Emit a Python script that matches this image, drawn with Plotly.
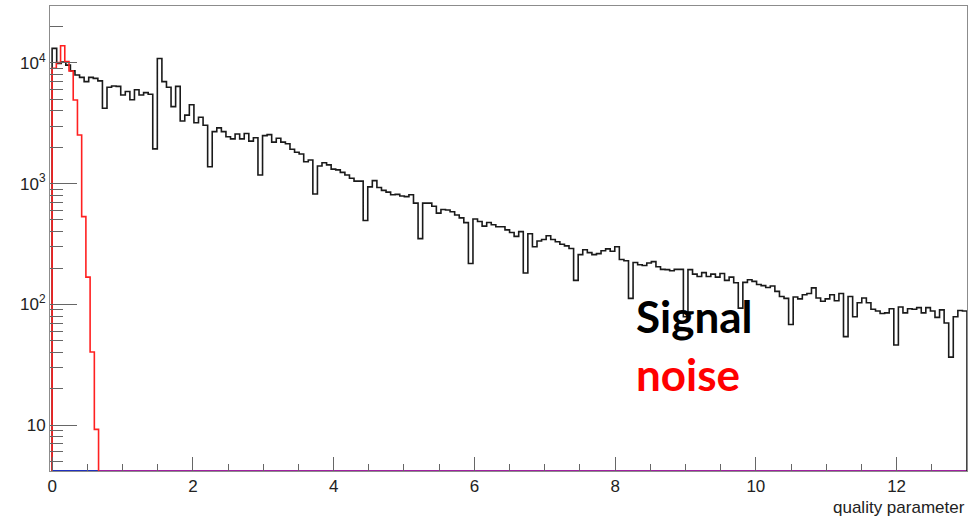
import numpy as np
import plotly.graph_objects as go

# Signal histogram: 200 bins on [0, 13]
signal_counts = [
    13200, 9900, 10200, 9600, 8600, 7950, 7600, 7000, 7600, 7450,
    7100, 4220, 6300, 6450, 6400, 5430, 5800, 4950, 6000, 5430,
    5680, 5500, 1940, 10900, 7000, 6300, 4350, 6400, 3300, 3700,
    4500, 3200, 3550, 3050, 1380, 2700, 2900, 2700, 2450, 2350,
    2580, 2350, 2600, 2250, 2400, 1180, 2500, 2550, 2210, 2380,
    2210, 2140, 1930, 1820, 1760, 1520, 1570, 820, 1400, 1490,
    1430, 1320, 1300, 1240, 1180, 1110, 1050, 1050, 495, 940,
    1060, 930, 880, 850, 810, 815, 790, 780, 810, 690,
    350, 690, 690, 650, 570, 610, 605, 585, 550, 520,
    475, 218, 510, 485, 445, 476, 456, 440, 440, 414,
    394, 366, 400, 182, 385, 300, 335, 345, 370, 345,
    330, 315, 305, 290, 158, 258, 283, 268, 258, 263,
    278, 288, 275, 300, 235, 230, 112, 222, 213, 210,
    220, 226, 205, 195, 194, 190, 195, 195, 79, 194,
    178, 170, 183, 170, 178, 168, 180, 158, 168, 151,
    93, 152, 160, 155, 146, 143, 138, 142, 128, 116,
    112, 68, 115, 111, 120, 123, 137, 113, 106, 111,
    120, 107, 123, 54, 116, 79, 103, 113, 103, 91,
    88, 84, 85, 92, 46, 95, 85, 92, 91, 94,
    85, 94, 88, 78, 90, 70, 36.5, 79, 89, 88,
]
signal_range = (0.0, 13.0)

# Noise histogram: 11 bins on [0, 0.66]
noise_counts = [9040, 10060, 13900, 10250, 8580, 4940, 2530, 533, 168, 40.3, 9.2]
noise_range = (0.0, 0.66)

x_tick_vals = [0, 2, 4, 6, 8, 10, 12]
y_tick_vals = [10, 100, 1000, 10000]
y_tick_text = ["10", "10<sup>2</sup>", "10<sup>3</sup>", "10<sup>4</sup>"]

x_min, x_max = -0.03, 13.0
log_y_min, log_y_max = 0.619, 4.472
y_floor = 10 ** log_y_min


def step_outline(counts, lo, hi):
    """Histogram outline (ROOT style) drawn from the frame bottom."""
    edges = np.linspace(lo, hi, len(counts) + 1)
    xs = [edges[0]] + list(edges[:-1]) + [edges[-1], edges[-1]]
    ys = [y_floor] + list(counts) + [counts[-1], y_floor]
    return xs, ys


fig = go.Figure()

# empty histograms lying on the frame bottom
fig.add_trace(go.Scatter(x=[signal_range[0], signal_range[1]], y=[y_floor, y_floor],
                         mode="lines", line=dict(color="#a020a0", width=2),
                         hoverinfo="skip", showlegend=False))
fig.add_trace(go.Scatter(x=[noise_range[0], noise_range[1]], y=[y_floor, y_floor],
                         mode="lines", line=dict(color="#2030c0", width=2),
                         hoverinfo="skip", showlegend=False))

sx, sy = step_outline(signal_counts, *signal_range)
fig.add_trace(go.Scatter(x=sx, y=sy, mode="lines", line_shape="hv",
                         line=dict(color="#1a1a1a", width=1.6),
                         name="Signal", showlegend=False))

nx, ny = step_outline(noise_counts, *noise_range)
fig.add_trace(go.Scatter(x=nx, y=ny, mode="lines", line_shape="hv",
                         line=dict(color="#ff2020", width=1.6),
                         name="noise", showlegend=False))

y_minor = [m * 10 ** k for k in range(0, 5) for m in range(2, 10)
           if log_y_min <= np.log10(m * 10 ** k) <= log_y_max]

tick_font = dict(family="Liberation Sans, Arial, sans-serif", size=17, color="#222222")

fig.update_layout(
    width=969, height=516,
    margin=dict(l=50, r=2, t=6, b=45),
    paper_bgcolor="white", plot_bgcolor="white",
    xaxis=dict(
        range=[x_min, x_max], showgrid=False, zeroline=False,
        showline=True, linecolor="#8c8c8c", linewidth=1, mirror=True,
        ticks="inside", ticklen=14, tickwidth=1, tickcolor="#666666",
        tickvals=x_tick_vals, tickfont=tick_font,
        minor=dict(ticks="inside", ticklen=7, tickwidth=1, tickcolor="#666666", dtick=0.5, tick0=0),
    ),
    yaxis=dict(
        type="log", range=[log_y_min, log_y_max], showgrid=False, zeroline=False,
        showline=True, linecolor="#8c8c8c", linewidth=1, mirror=True,
        ticks="inside", ticklen=27, tickwidth=1, tickcolor="#666666",
        tickvals=y_tick_vals, ticktext=y_tick_text, tickfont=tick_font,
        minor=dict(ticks="inside", ticklen=13, tickwidth=1, tickcolor="#666666", tickvals=y_minor),
    ),
    annotations=[
        dict(text="quality parameter", xref="paper", yref="paper", x=1.0, y=0,
             xanchor="right", yanchor="top", yshift=-25, showarrow=False,
             font=dict(family="Liberation Sans, Arial, sans-serif", size=17, color="#222222")),
        dict(text="<b>Signal</b>", xref="paper", yref="paper", x=0.637, y=0.333,
             xanchor="left", yanchor="middle", showarrow=False,
             font=dict(family="Lato, sans-serif", size=44, color="#000000")),
        dict(text="<b>noise</b>", xref="paper", yref="paper", x=0.637, y=0.208,
             xanchor="left", yanchor="middle", showarrow=False,
             font=dict(family="Lato, sans-serif", size=44, color="#ff0000")),
    ],
)

fig.write_html("out.html")
